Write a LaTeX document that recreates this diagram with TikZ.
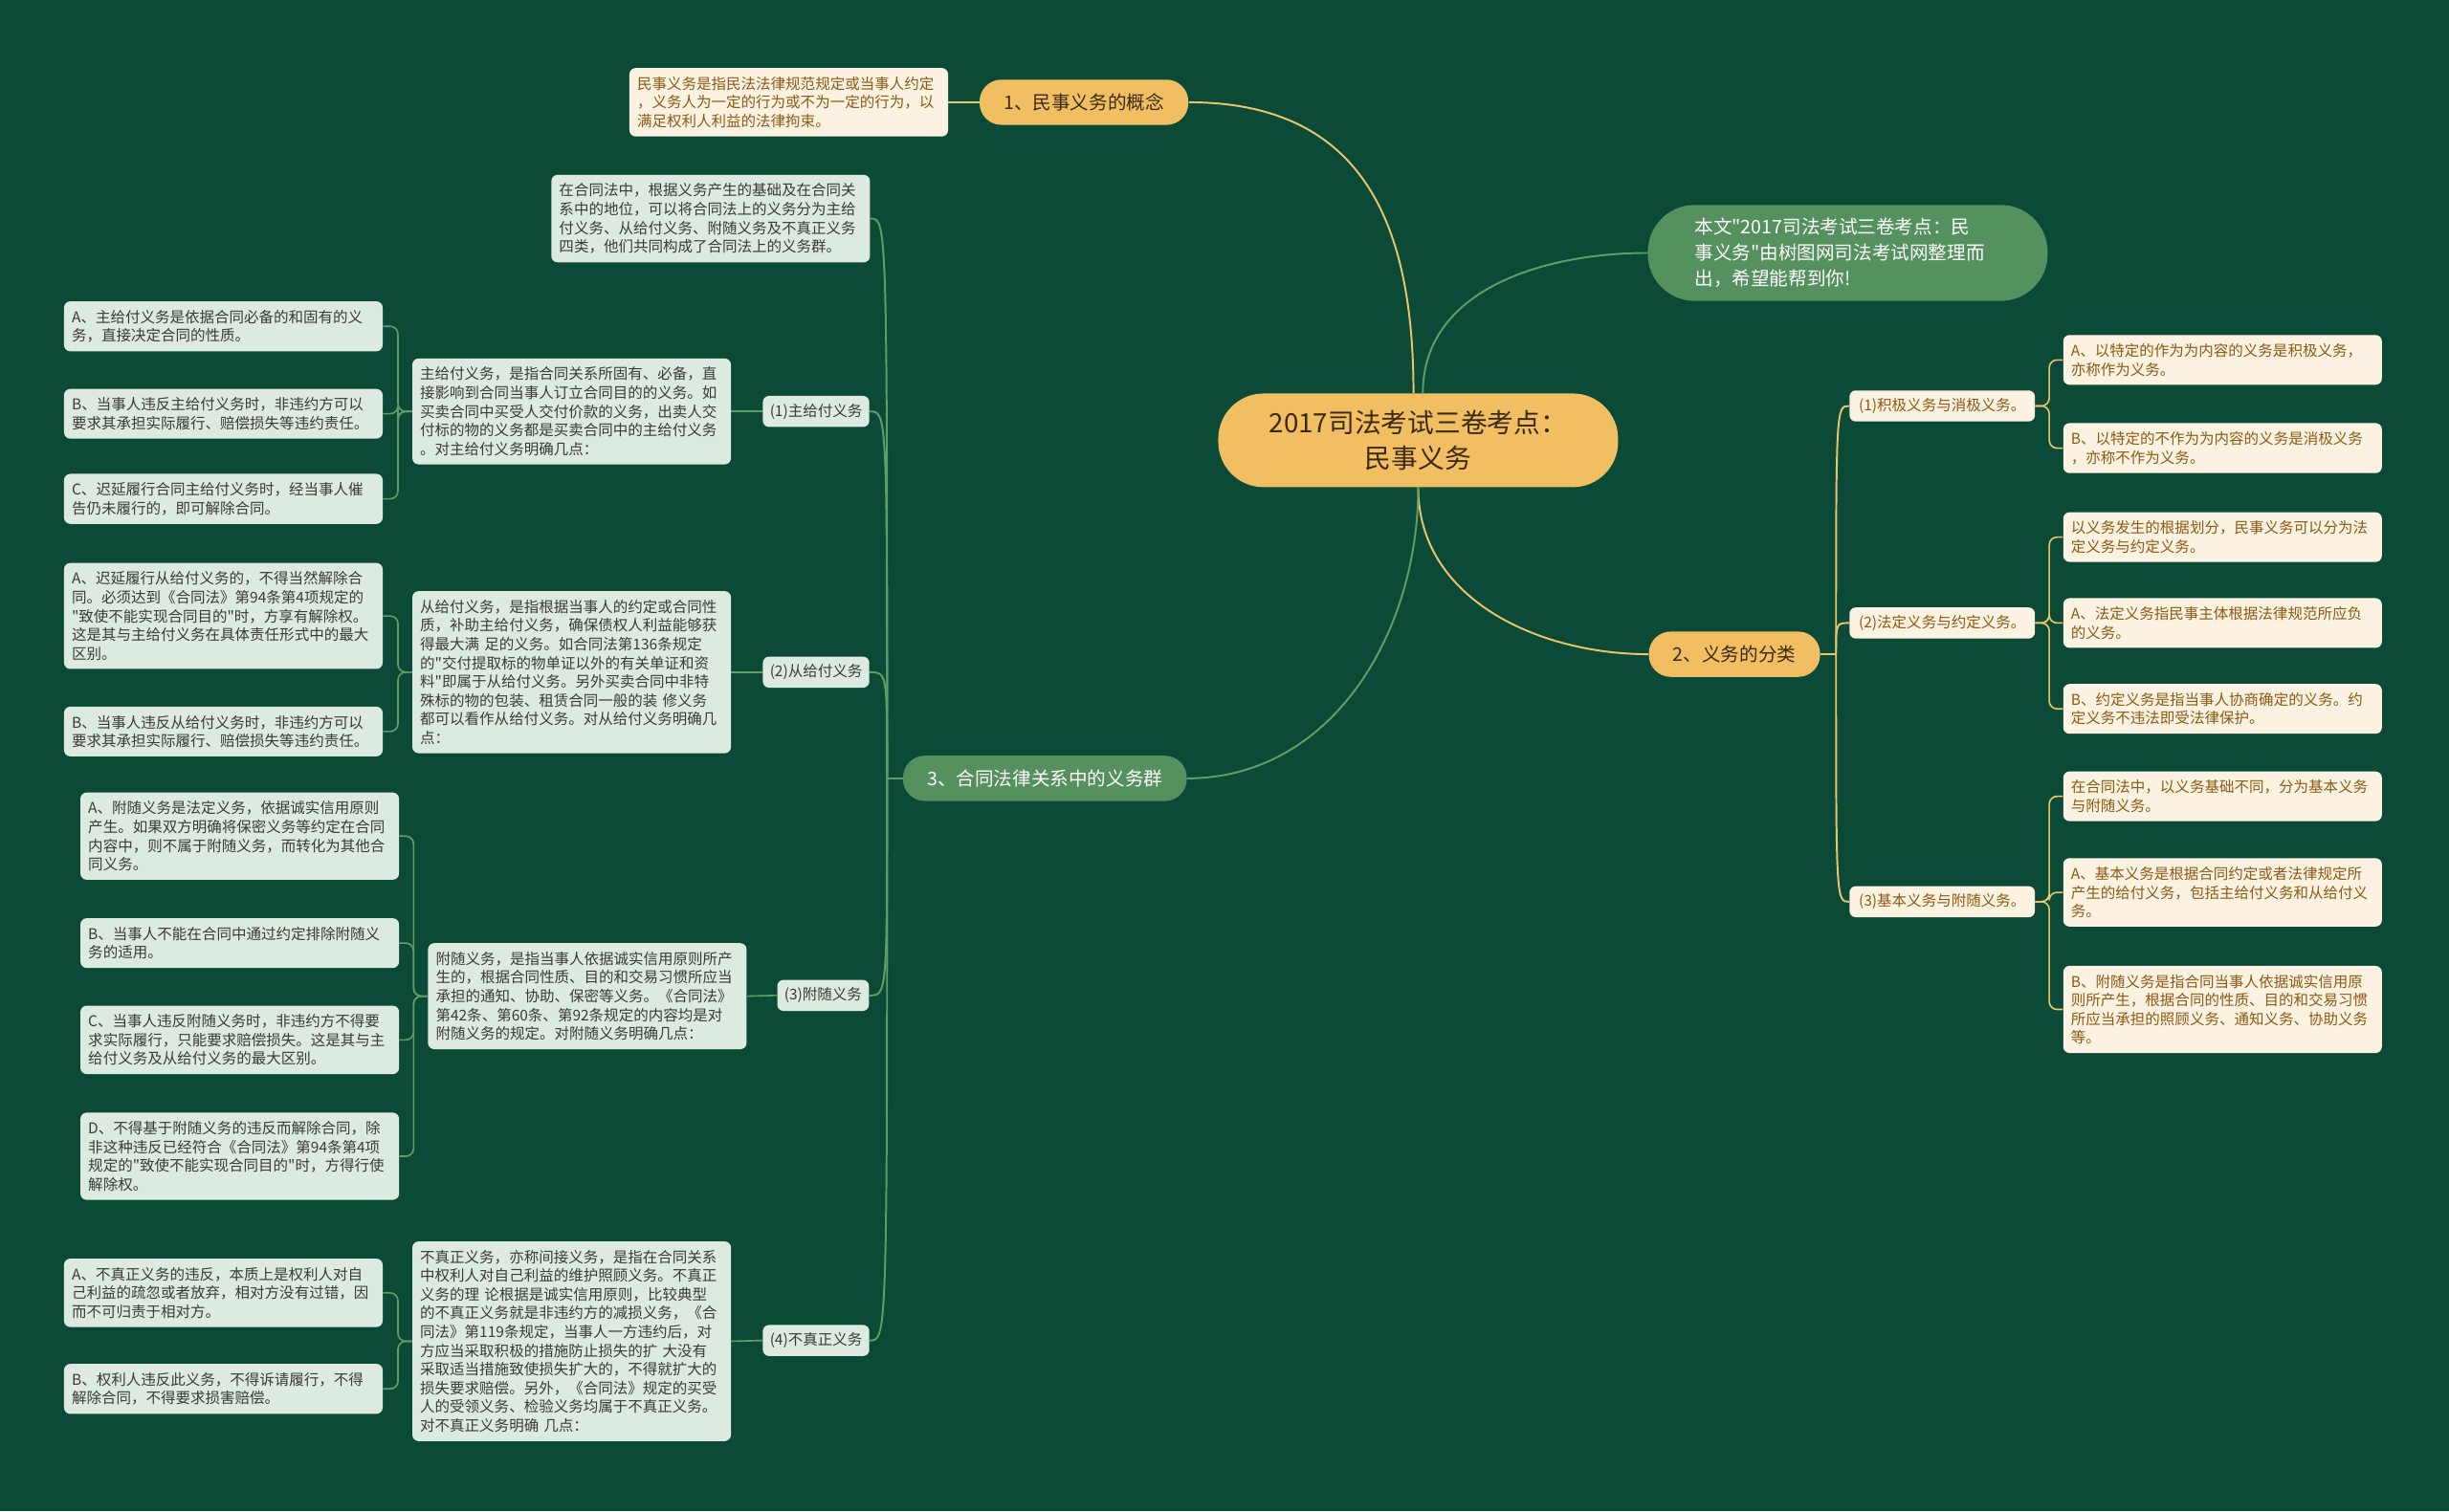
\documentclass[tikz,border=0pt]{standalone}
\usepackage{fontspec}
\setmainfont{Noto Sans CJK SC}[Ligatures=TeXOff]
\usetikzlibrary{arrows.meta}

\definecolor{bgcol}{HTML}{0B4A37}
\definecolor{orng}{HTML}{F2BE62}
\definecolor{mgrn}{HTML}{55915E}
\definecolor{lgrn}{HTML}{DDEADF}
\definecolor{crem}{HTML}{FCF2E1}
\definecolor{brwn}{HTML}{8B5A14}
\definecolor{dtxt}{HTML}{3A3A3A}
\definecolor{otxt}{HTML}{3B2A12}
\definecolor{ylin}{HTML}{E9C46B}
\definecolor{glin}{HTML}{5E9E66}

\tikzset{
  rootbox/.style={fill=orng,text=otxt,rounded corners=29pt,minimum width=256pt,
    minimum height=60pt,align=center,font=\fontsize{17}{23}\selectfont},
  brancho/.style={fill=orng,text=otxt,rounded corners=14pt,minimum height=29pt,
    inner xsep=15.5pt,font=\fontsize{12}{14}\selectfont},
  branchg/.style={brancho,fill=mgrn,text=white},
  notebox/.style={fill=mgrn,text=white,rounded corners=30pt,text width=196pt,
    inner xsep=30pt,inner ysep=8.5pt,align=left,font=\fontsize{12}{16.5}\selectfont},
  leafg/.style={fill=lgrn,text=dtxt,rounded corners=4pt,text width=194pt,
    inner xsep=5pt,inner ysep=5.5pt,align=left,font=\fontsize{9.5}{12}\selectfont},
  leafy/.style={leafg,fill=crem,text=brwn},
  tagg/.style={fill=lgrn,text=dtxt,rounded corners=4pt,inner xsep=4.5pt,
    inner ysep=5pt,font=\fontsize{9.5}{12}\selectfont},
  tagy/.style={tagg,fill=crem,text=brwn,inner xsep=6pt},
  ycon/.style={draw=ylin,line width=1.2pt},
  gcon/.style={draw=glin,line width=1.2pt}
}

\begin{document}
\begin{tikzpicture}[x=1pt,y=-1pt]
\fill[bgcol] (0,0) rectangle (1568,968);
\useasboundingbox (0,0) rectangle (1568,968);

\node[rootbox] (root) at (908,282) {2017司法考试三卷考点：\\民事义务};

\begin{scope}[every node/.style={brancho}]
    \node (b1) at (694,65.5)  {1、民事义务的概念};
    \node (b2) at (1110.5,419) {2、义务的分类};
\end{scope}
\node[branchg] (b3) at (669,498.5) {3、合同法律关系中的义务群};
\node[notebox] (note) at (1183,162) {本文"2017司法考试三卷考点：民\\事义务"由树图网司法考试网整理而\\出，希望能帮到你!};

% branch 1 and 2 (cream)
\begin{scope}[every node/.style={leafy}]
    \node (c1)  at (505,65.5)  {民事义务是指民法法律规范规定或当事人约定\\，义务人为一定的行为或不为一定的行为，以\\满足权利人利益的法律拘束。};
    \node (r11) at (1423,230.5) {A、以特定的作为为内容的义务是积极义务，\\亦称作为义务。};
    \node (r12) at (1423,287)   {B、以特定的不作为为内容的义务是消极义务\\，亦称不作为义务。};
    \node (r21) at (1423,344)   {以义务发生的根据划分，民事义务可以分为法\\定义务与约定义务。};
    \node (r22) at (1423,399)   {A、法定义务指民事主体根据法律规范所应负\\的义务。};
    \node (r23) at (1423,454)   {B、约定义务是指当事人协商确定的义务。约\\定义务不违法即受法律保护。};
    \node (r31) at (1423,510)   {在合同法中，以义务基础不同，分为基本义务\\与附随义务。};
    \node (r32) at (1423,571.5) {A、基本义务是根据合同约定或者法律规定所\\产生的给付义务，包括主给付义务和从给付义\\务。};
    \node (r33) at (1423,646.5) {B、附随义务是指合同当事人依据诚实信用原\\则所产生，根据合同的性质、目的和交易习惯\\所应当承担的照顾义务、通知义务、协助义务\\等。};
\end{scope}
\begin{scope}[every node/.style={tagy}]
    \node (s1) at (1243.5,260)   {(1)积极义务与消极义务。};
    \node (s2) at (1243.5,399)   {(2)法定义务与约定义务。};
    \node (s3) at (1243.5,577.5) {(3)基本义务与附随义务。};
\end{scope}

% branch 3 (green)
\begin{scope}[every node/.style={tagg}]
    \node (k1) at (522.5,263.5) {(1)主给付义务};
    \node (k2) at (522.5,430.5) {(2)从给付义务};
    \node (k3) at (527,637.5)   {(3)附随义务};
    \node (k4) at (522.5,858.5) {(4)不真正义务};
\end{scope}
\begin{scope}[every node/.style={leafg}]
    \node (intro) at (455,140) {在合同法中，根据义务产生的基础及在合同关\\系中的地位，可以将合同法上的义务分为主给\\付义务、从给付义务、附随义务及不真正义务\\四类，他们共同构成了合同法上的义务群。};
    \node (d1) at (366,263.5) {主给付义务，是指合同关系所固有、必备，直\\接影响到合同当事人订立合同目的的义务。如\\买卖合同中买受人交付价款的义务，出卖人交\\付标的物的义务都是买卖合同中的主给付义务\\。对主给付义务明确几点：};
    \node (d2) at (366,430.5) {从给付义务，是指根据当事人的约定或合同性\\质，补助主给付义务，确保债权人利益能够获\\得最大满 足的义务。如合同法第136条规定\\的"交付提取标的物单证以外的有关单证和资\\料"即属于从给付义务。另外买卖合同中非特\\殊标的物的包装、租赁合同一般的装 修义务\\都可以看作从给付义务。对从给付义务明确几\\点：};
    \node (d3) at (376,638) {附随义务，是指当事人依据诚实信用原则所产\\生的，根据合同性质、目的和交易习惯所应当\\承担的通知、协助、保密等义务。《合同法》\\第42条、第60条、第92条规定的内容均是对\\附随义务的规定。对附随义务明确几点：};
    \node (d4) at (366,859) {不真正义务，亦称间接义务，是指在合同关系\\中权利人对自己利益的维护照顾义务。不真正\\义务的理 论根据是诚实信用原则，比较典型\\的不真正义务就是非违约方的减损义务，《合\\同法》第119条规定，当事人一方违约后，对\\方应当采取积极的措施防止损失的扩 大没有\\采取适当措施致使损失扩大的，不得就扩大的\\损失要求赔偿。另外，《合同法》规定的买受\\人的受领义务、检验义务均属于不真正义务。\\对不真正义务明确 几点：};
    \node (a11) at (143,209)   {A、主给付义务是依据合同必备的和固有的义\\务，直接决定合同的性质。};
    \node (a12) at (143,265)   {B、当事人违反主给付义务时，非违约方可以\\要求其承担实际履行、赔偿损失等违约责任。};
    \node (a13) at (143,319.5) {C、迟延履行合同主给付义务时，经当事人催\\告仍未履行的，即可解除合同。};
    \node (a21) at (143,394.5) {A、迟延履行从给付义务的，不得当然解除合\\同。必须达到《合同法》第94条第4项规定的\\"致使不能实现合同目的"时，方享有解除权。\\这是其与主给付义务在具体责任形式中的最大\\区别。};
    \node (a22) at (143,468.5) {B、当事人违反从给付义务时，非违约方可以\\要求其承担实际履行、赔偿损失等违约责任。};
    \node (a31) at (153.5,535.5) {A、附随义务是法定义务，依据诚实信用原则\\产生。如果双方明确将保密义务等约定在合同\\内容中，则不属于附随义务，而转化为其他合\\同义务。};
    \node (a32) at (153.5,604)   {B、当事人不能在合同中通过约定排除附随义\\务的适用。};
    \node (a33) at (153.5,666)   {C、当事人违反附随义务时，非违约方不得要\\求实际履行，只能要求赔偿损失。这是其与主\\给付义务及从给付义务的最大区别。};
    \node (a34) at (153.5,740.5) {D、不得基于附随义务的违反而解除合同，除\\非这种违反已经符合《合同法》第94条第4项\\规定的"致使不能实现合同目的"时，方得行使\\解除权。};
    \node (a41) at (143,828)   {A、不真正义务的违反，本质上是权利人对自\\己利益的疏忽或者放弃，相对方没有过错，因\\而不可归责于相对方。};
    \node (a42) at (143,889.5) {B、权利人违反此义务，不得诉请履行，不得\\解除合同，不得要求损害赔偿。};
\end{scope}

% main links
\draw[ycon] ([xshift=-3pt]root.north) to[out=90,in=0,looseness=1.2] (b1.east);
\draw[gcon] ([xshift=3pt]root.north) to[out=90,in=180] (note.west);
\draw[ycon] (root.south) to[out=-90,in=180] (b2.west);
\draw[gcon] (root.south) to[out=-90,in=0] (b3.east);
\draw[ycon] (b1.west) -- (c1.east);

% trunks
\draw[ycon] (b2.east) -- ++(10,0) coordinate (j2);
\foreach \n in {s1,s2,s3}
    \draw[ycon] (j2) .. controls (j2 |- \n.west) .. (\n.west);
\draw[gcon] (b3.west) -- ++(-10,0) coordinate (j3);
\foreach \n in {intro,k1,k2,k3,k4}
    \draw[gcon] (j3) .. controls (j3 |- \n.east) .. (\n.east);

% brackets
\begin{scope}[ycon,line width=1pt,rounded corners=5pt]
    \foreach \n in {r11,r12} \draw (s1.east) -- ++(9,0) |- (\n.west);
    \foreach \n in {r21,r22,r23} \draw (s2.east) -- ++(9,0) |- (\n.west);
    \foreach \n in {r31,r32,r33} \draw (s3.east) -- ++(9,0) |- (\n.west);
\end{scope}
\begin{scope}[gcon,line width=1pt,rounded corners=5pt]
    \foreach \n/\d in {k1/d1,k2/d2,k3/d3,k4/d4} \draw (\n.west) -- (\d.east);
    \foreach \n in {a11,a12,a13} \draw (d1.west) -- ++(-9,0) |- (\n.east);
    \foreach \n in {a21,a22} \draw (d2.west) -- ++(-9,0) |- (\n.east);
    \foreach \n in {a31,a32,a33,a34} \draw (d3.west) -- ++(-9,0) |- (\n.east);
    \foreach \n in {a41,a42} \draw (d4.west) -- ++(-9,0) |- (\n.east);
\end{scope}
\end{tikzpicture}
\end{document}
